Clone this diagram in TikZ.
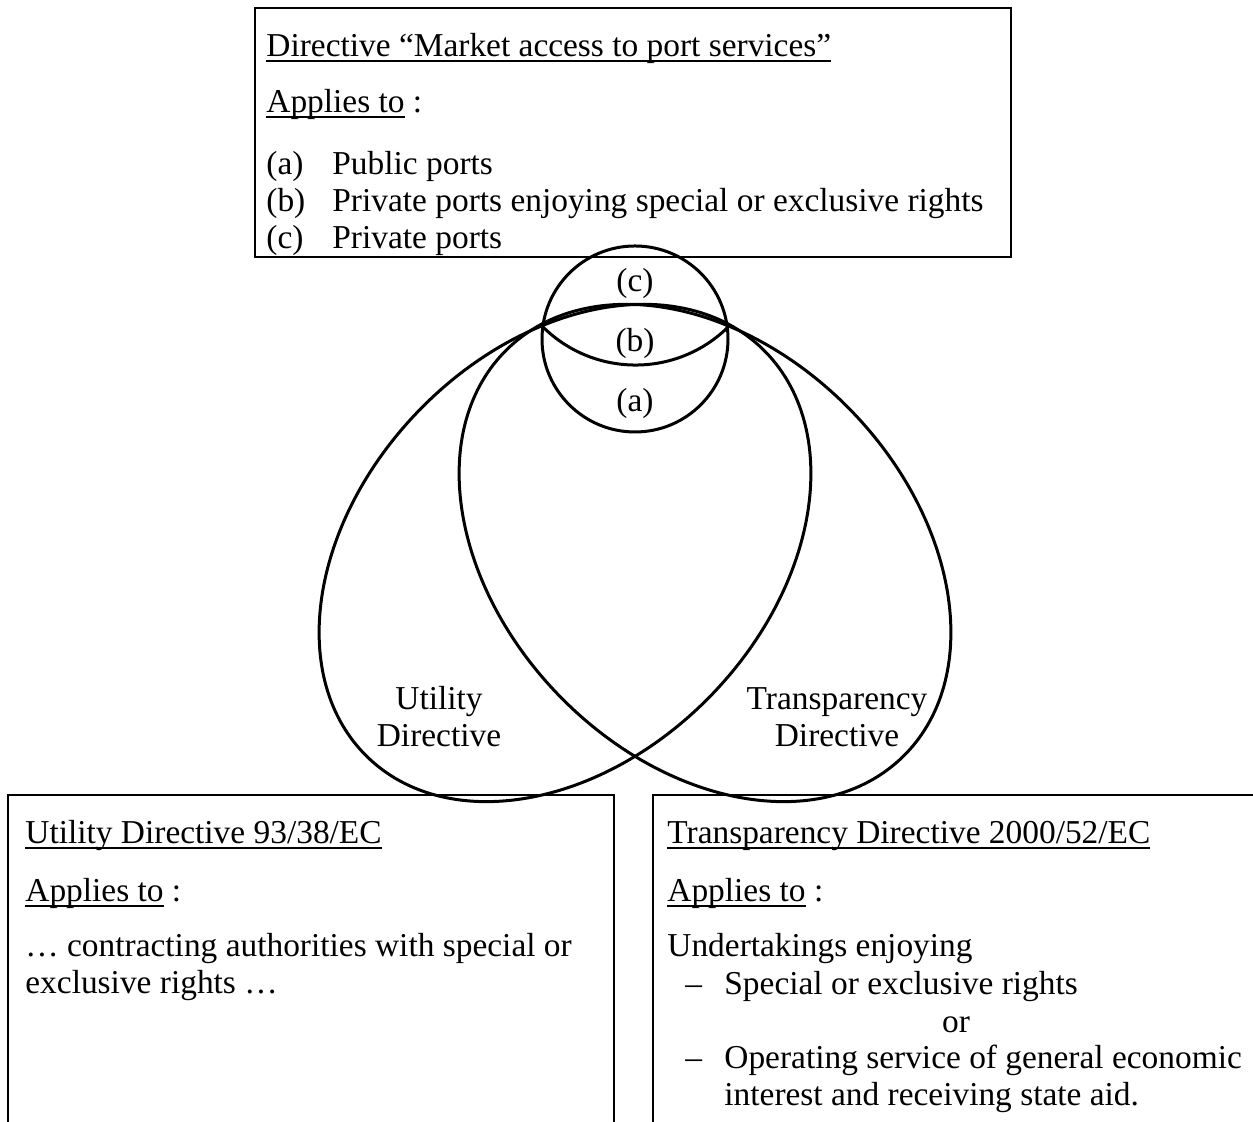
\documentclass[tikz,border=0pt]{standalone}
\usepackage{fontspec}
\setmainfont{Liberation Serif}
\newcommand{\ulin}[1]{\setbox0=\hbox{#1}\rlap{\vrule width\wd0 height -1.5pt depth 2.6pt}\box0\relax}
\begin{document}
\begin{tikzpicture}[x=0.5pt,y=0.5pt,
  txt/.style={anchor=base west, inner sep=0pt, font=\fontsize{16.7}{18.5}\selectfont},
  lbl/.style={anchor=center, inner sep=0pt, align=center, font=\fontsize{16.7}{18.5}\selectfont},
  boxline/.style={draw=black, line width=1pt},
  venn/.style={draw=black, line width=1.5pt}]
\useasboundingbox (0,0) rectangle (1253,1122);
\clip (0,0) rectangle (1253,1122);
% top box
\draw[boxline] (255,1114) rectangle (1011,865);
\node[txt] (t1) at (266,1065) {\ulin{Directive “Market access to port services”}};
\node[txt] (t2) at (266,1009) {\ulin{Applies to} :};
\node[txt] (ta) at (266,947) {(a)};
\node[txt] (tat) at (332,947) {Public ports};
\node[txt] (tb) at (266,910) {(b)};
\node[txt] (tbt) at (332,910) {Private ports enjoying special or exclusive rights};
\node[txt] (tc) at (266,873) {(c)};
\node[txt] (tct) at (332,873) {Private ports};
% ellipses
\coordinate (uc) at (565,569);
\coordinate (tcen) at (705,569);
\draw[venn, rotate around={46:(uc)}] (uc) ellipse [x radius=284, y radius=204];
\draw[venn, rotate around={-46:(tcen)}] (tcen) ellipse [x radius=284, y radius=204];
% small circle
\coordinate (cc) at (635,783);
\draw[venn] (cc) circle [radius=93];
\coordinate (lensL) at (543,795);
\draw[venn] (lensL) arc[start angle=225.3, end angle=314.7, radius=131.6];
\node[lbl] (lc) at (635,839) {(c)};
\node[lbl] (lb) at (635,779) {(b)};
\node[lbl] (la) at (635,719) {(a)};
\node[lbl] (lu) at (439,405) {Utility\\Directive};
\node[lbl] (lt) at (837,405) {Transparency\\Directive};
% bottom left box
\draw[boxline] (8,-20) -- (8,327) -- (614,327) -- (614,-20);
\node[txt] (u1) at (25,278) {\ulin{Utility Directive 93/38/EC}};
\node[txt] (u2) at (25,220) {\ulin{Applies to} :};
\node[txt] (u3) at (25,165) {… contracting authorities with special or};
\node[txt] (u4) at (25,128) {exclusive rights …};
% bottom right box
\draw[boxline] (653,-20) -- (653,327) -- (1300,327);
\node[txt] (r1) at (667,278) {\ulin{Transparency Directive 2000/52/EC}};
\node[txt] (r2) at (667,220) {\ulin{Applies to} :};
\node[txt] (r3) at (667,165) {Undertakings enjoying};
\node[txt] (r4d) at (685,127) {–};
\node[txt] (r4) at (724,127) {Special or exclusive rights};
\node[anchor=base, inner sep=0pt, font=\fontsize{16.7}{18.5}\selectfont] (r5) at (956,89) {or};
\node[txt] (r6d) at (685,53) {–};
\node[txt] (r6) at (724,53) {Operating service of general economic};
\node[txt] (r7) at (724,16) {interest and receiving state aid.};
\end{tikzpicture}
\end{document}
